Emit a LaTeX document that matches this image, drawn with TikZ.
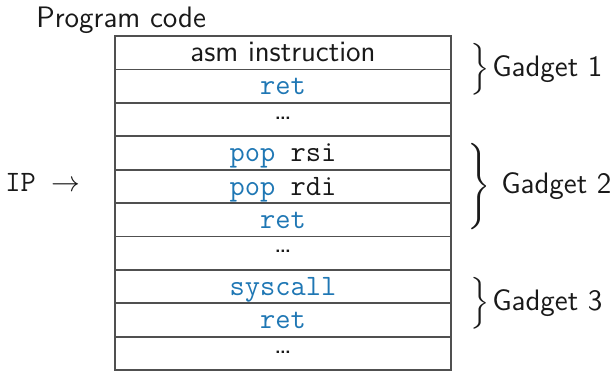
\documentclass[tikz,border=0pt]{standalone}
\usepackage{exscale}
\usetikzlibrary{calc}
\definecolor{kwblue}{RGB}{31,119,180}
\definecolor{txt}{RGB}{25,25,25}
\definecolor{rule}{RGB}{80,80,80}
\newcommand\kwd[1]{\textcolor{kwblue}{#1}}
\begin{document}
\begin{tikzpicture}[x=0.5pt,y=-0.5pt,
  font=\fontsize{14.8}{17.8}\selectfont\sffamily,
  every node/.style={inner sep=0pt,text=txt},
  cell/.style={anchor=base},
  code/.style={anchor=base,font=\fontsize{14.8}{17.8}\selectfont\ttfamily},
  brace/.style={anchor=west},
  glabel/.style={anchor=base west},
  tableline/.style={draw=rule,line width=0.9pt}]
\useasboundingbox (0,0) rectangle (611,371);
% table
\draw[tableline] (115,36) rectangle (451,370);
\foreach \i in {1,...,9}{
  \draw[tableline] (115,{36+33.4*\i}) -- (451,{36+33.4*\i});
}
\def\cx{283}
\node[cell] (r0) at (\cx,{36+33.4*0+25.5}) {asm instruction};
\node[code] (r1) at (\cx,{36+33.4*1+25.5}) {\kwd{ret}};
\node[cell] (r2) at (\cx,{36+33.4*2+16.5}) {\dots};
\node[code] (r3) at (\cx,{36+33.4*3+25.5}) {\kwd{pop} rsi};
\node[code] (r4) at (\cx,{36+33.4*4+25.5}) {\kwd{pop} rdi};
\node[code] (r5) at (\cx,{36+33.4*5+25.5}) {\kwd{ret}};
\node[cell] (r6) at (\cx,{36+33.4*6+16.5}) {\dots};
\node[code] (r7) at (\cx,{36+33.4*7+25.5}) {\kwd{syscall}};
\node[code] (r8) at (\cx,{36+33.4*8+25.5}) {\kwd{ret}};
\node[cell] (r9) at (\cx,{36+33.4*9+16.5}) {\dots};
% title and IP
\node[anchor=base west] (title) at (36,27) {Program code};
\node[anchor=base west] (ip) at (5,191) {{\ttfamily IP\ }$\rightarrow$};
% braces
\node[brace] (b1) at (470,69.4) {$\nulldelimiterspace=0pt\left.\vcenter to 24pt{\vfil}\right\}$};
\node[brace] (b2) at (467,186.3) {$\nulldelimiterspace=0pt\left.\vcenter to 42pt{\vfil}\right\}$};
\node[brace] (b3) at (470,303.2) {$\nulldelimiterspace=0pt\left.\vcenter to 24pt{\vfil}\right\}$};
\node[glabel] (g1) at ($(b1.east)+(2,7)$) {Gadget 1};
\node[glabel] (g2) at ($(b2.east)+(10,7)$) {Gadget 2};
\node[glabel] (g3) at ($(b3.east)+(2,7)$) {Gadget 3};
\end{tikzpicture}
\end{document}
